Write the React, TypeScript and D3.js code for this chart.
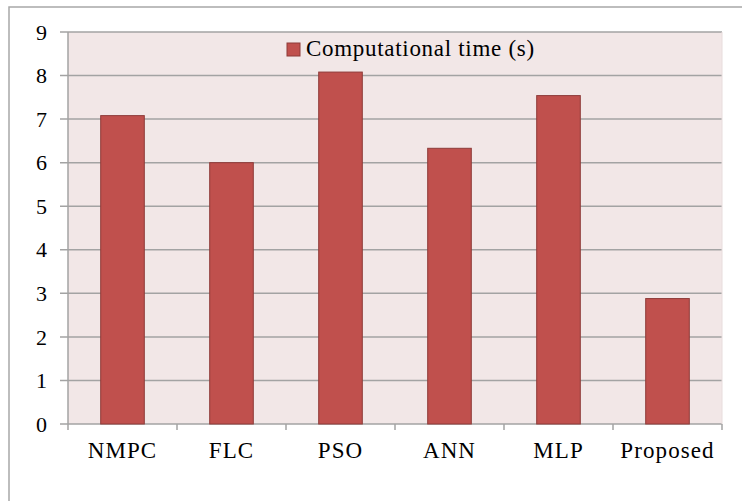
import React from "react";
import * as d3 from "d3";

const categories = ["NMPC", "FLC", "PSO", "ANN", "MLP", "Proposed"];
const values = [7.08, 6.0, 8.08, 6.33, 7.54, 2.88];
const yTicks = [0, 1, 2, 3, 4, 5, 6, 7, 8, 9];
const seriesName = "Computational time (s)";

export default function App() {
  const W = 742, H = 501;
  const left = 68, right = 722, top = 32, bottom = 424;
  const x = d3.scaleBand<string>().domain(categories).range([left, right]).paddingInner(0.6).paddingOuter(0.3);
  const xb = d3.scaleBand<string>().domain(categories).range([left, right]);
  const y = d3.scaleLinear().domain([0, 9]).range([bottom, top]);
  const font = "'Liberation Serif', 'Times New Roman', serif";
  const grid = "#a3a3a3";
  return (
    <svg width={W} height={H} style={{ position: "absolute", left: 0, top: 0 }}>
      <rect x={0} y={0} width={W} height={H} fill="#fff" />
      <rect x={9} y={7} width={W + 10} height={H + 10} fill="none" stroke="#a8a8a8" strokeWidth={1.5} />
      <rect x={left} y={top} width={right - left} height={bottom - top} fill="#f2e7e7" />
      {yTicks.map((t) => (
        <g key={t}>
          <line x1={60} x2={right} y1={y(t)} y2={y(t)} stroke={grid} strokeWidth={1.5} />
          <text x={47} y={y(t)} dy="0.35em" textAnchor="end" fontFamily={font} fontSize={22} fill="#000">{t}</text>
        </g>
      ))}
      <line x1={left} x2={left} y1={top} y2={bottom} stroke={grid} strokeWidth={1.5} />
      <line x1={right} x2={right} y1={top} y2={bottom} stroke="#e8dcdc" strokeWidth={1} />
      {categories.map((c, i) => (
        <line key={"t" + i} x1={xb(c)!} x2={xb(c)!} y1={bottom} y2={430} stroke={grid} strokeWidth={1.5} />
      ))}
      <line x1={right} x2={right} y1={bottom} y2={430} stroke={grid} strokeWidth={1.5} />
      {categories.map((c, i) => (
        <rect key={c} x={x(c)!} y={y(values[i])} width={x.bandwidth()} height={bottom - y(values[i])} fill="#c0504d" stroke="#8e3b39" strokeWidth={1} />
      ))}
      {categories.map((c) => (
        <text key={"l" + c} x={xb(c)! + xb.bandwidth() / 2} y={458} textAnchor="middle" fontFamily={font} fontSize={23} letterSpacing={1.1} fill="#000">{c}</text>
      ))}
      <rect x={287} y={43} width={13} height={13} fill="#c0504d" stroke="#8e3b39" strokeWidth={1} />
      <text x={306} y={56} fontFamily={font} fontSize={23} letterSpacing={0.7} fill="#000">{seriesName}</text>
    </svg>
  );
}
